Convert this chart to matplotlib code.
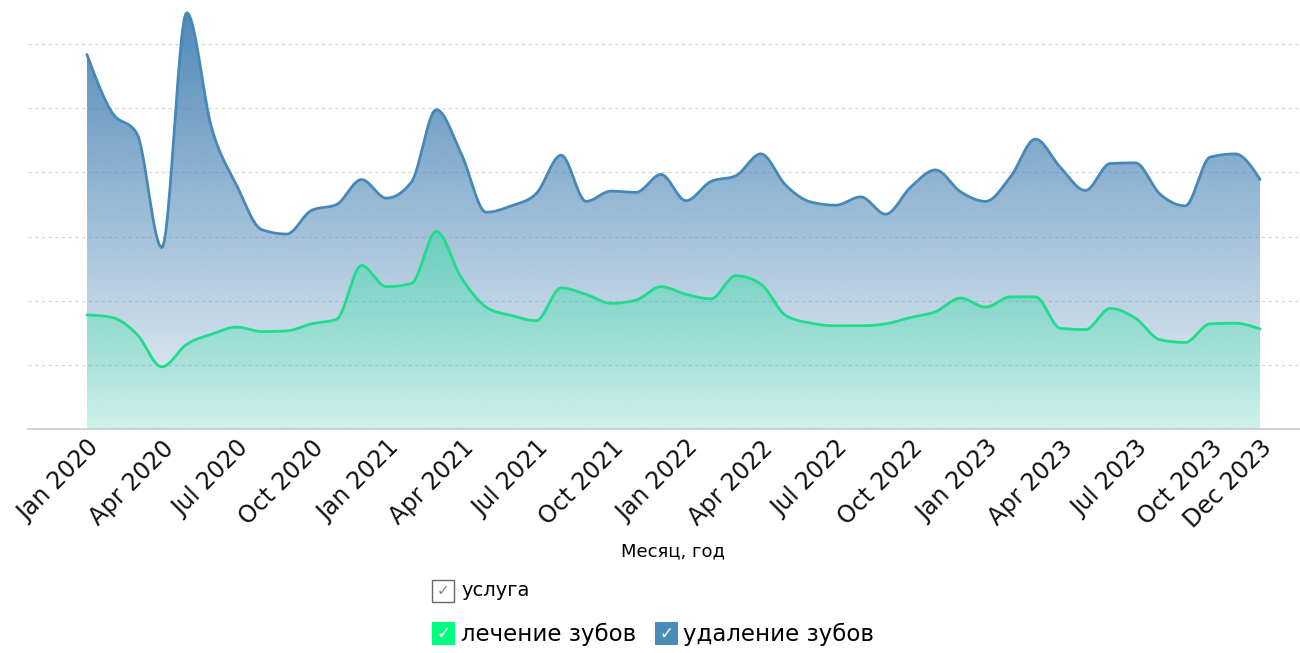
import numpy as np
import matplotlib
matplotlib.use("Agg")
import matplotlib.pyplot as plt
from matplotlib.patches import Rectangle

# monthly values, Jan 2020 .. Dec 2023
udalenie = [58.4, 49.4, 46.1, 28.3, 64.9, 46.9, 38.0, 31.1, 30.4, 34.1, 35.0, 38.9,
            36.0, 38.5, 49.8, 42.9, 33.8, 34.8, 36.7, 42.7, 35.5, 37.1, 36.9, 39.7,
            35.6, 38.6, 39.5, 42.9, 38.0, 35.4, 34.9, 36.2, 33.5, 37.7, 40.4, 37.0,
            35.5, 39.3, 45.2, 40.8, 37.2, 41.4, 41.5, 36.6, 34.8, 42.4, 42.9, 38.9]
lechenie = [17.8, 17.4, 14.8, 9.7, 13.2, 14.8, 15.9, 15.2, 15.3, 16.4, 17.1, 25.5,
            22.2, 22.7, 30.8, 23.6, 19.0, 17.7, 16.9, 22.0, 21.0, 19.6, 20.1, 22.2,
            21.0, 20.3, 23.9, 22.6, 17.7, 16.5, 16.1, 16.1, 16.4, 17.4, 18.3, 20.4,
            19.0, 20.6, 20.6, 15.7, 15.5, 18.8, 17.3, 13.9, 13.5, 16.4, 16.5, 15.6]
month_names = ['Jan', 'Feb', 'Mar', 'Apr', 'May', 'Jun', 'Jul', 'Aug', 'Sep', 'Oct', 'Nov', 'Dec']
months = [f'{m} {y}' for y in range(2020, 2024) for m in month_names]
tick_idx = list(range(0, 48, 3)) + [47]


def monotone(x, y, n=24):
    # monotone cubic (like d3 curveMonotoneX)
    x = np.asarray(x, float)
    y = np.asarray(y, float)
    h = np.diff(x)
    s = np.diff(y) / h
    t = np.zeros_like(y)
    for k in range(1, len(y) - 1):
        s0, s1 = s[k - 1], s[k]
        p = (s0 * h[k] + s1 * h[k - 1]) / (h[k - 1] + h[k])
        t[k] = (np.sign(s0) + np.sign(s1)) * min(abs(s0), abs(s1), 0.5 * abs(p))
    t[0] = (3 * s[0] - t[1]) / 2
    t[-1] = (3 * s[-1] - t[-2]) / 2
    xs, ys = [], []
    for k in range(len(y) - 1):
        u = np.linspace(0, 1, n, endpoint=False)
        h00 = 2 * u**3 - 3 * u**2 + 1
        h10 = u**3 - 2 * u**2 + u
        h01 = -2 * u**3 + 3 * u**2
        h11 = u**3 - u**2
        xs.append(x[k] + u * h[k])
        ys.append(h00 * y[k] + h10 * h[k] * t[k] + h01 * y[k + 1] + h11 * h[k] * t[k + 1])
    xs.append([x[-1]])
    ys.append([y[-1]])
    return np.concatenate(xs), np.concatenate(ys)


fig = plt.figure(figsize=(13, 6.53), dpi=100)
ax = fig.add_axes([28 / 1300, 1 - 429 / 653, 1 - 28 / 1300, 429 / 653])

ytop = 66.9
x = np.arange(48)


def gradient_area(vals, rgb, a0, a1, line_color, z):
    xs, ys = monotone(x, vals)
    poly = ax.fill_between(xs, 0, ys, facecolor='none', edgecolor='none', zorder=z)
    grad = np.zeros((256, 1, 4))
    grad[:, 0, :3] = np.array(rgb) / 255
    grad[:, 0, 3] = np.linspace(a0, a1, 256)
    im = ax.imshow(grad, extent=[0, 47, 0, ytop], origin='lower', aspect='auto',
                   interpolation='bilinear', zorder=z)
    im.set_clip_path(poly.get_paths()[0], transform=ax.transData)
    ax.plot(xs, ys, color=line_color, lw=2.0, zorder=z + 0.5, solid_capstyle='round')


gradient_area(udalenie, (70, 130, 180), 0.1, 0.97, '#4688b6', 2)
gradient_area(lechenie, (20, 230, 150), 0.13, 0.7, '#20dc8c', 3)

ax.set_xlim(-2.36, 48.6)
ax.set_ylim(0, ytop)
ax.set_yticks(range(10, 61, 10))
ax.yaxis.grid(True, color='#d4d4d4', linestyle=(0, (3, 3)), lw=0.8)
ax.set_axisbelow(True)
ax.tick_params(axis='y', length=0, labelleft=False)
ax.tick_params(axis='x', length=0, pad=5)
ax.set_xticks(tick_idx)
ax.set_xticklabels([months[i] for i in tick_idx], rotation=45, ha='right', va='top',
                   rotation_mode='anchor', fontsize=17, color='#111111')
for s in ['top', 'right', 'left']:
    ax.spines[s].set_visible(False)
ax.spines['bottom'].set_color('#cccccc')
ax.spines['bottom'].set_linewidth(1.2)

fig.text(673 / 1300, 1 - 551 / 653, 'Месяц, год', ha='center', va='center', fontsize=13)

# legend drawn by hand
def px_box(x0, y0, w, h, **kw):
    fig.patches.append(Rectangle((x0 / 1300, 1 - (y0 + h) / 653), w / 1300, h / 653,
                                 transform=fig.transFigure, **kw))

px_box(432, 580, 22, 22, facecolor='white', edgecolor='#666666', lw=1)
fig.text(443 / 1300, 1 - 591 / 653, '✓', ha='center', va='center', fontsize=11, color='#888888')
fig.text(461 / 1300, 1 - 591 / 653, 'услуга', ha='left', va='center', fontsize=14)

px_box(432, 622, 23, 23, facecolor='#00ff80', edgecolor='none')
fig.text(443.5 / 1300, 1 - 633.5 / 653, '✓', ha='center', va='center', fontsize=12, color='white')
fig.text(461 / 1300, 1 - 634 / 653, 'лечение зубов', ha='left', va='center', fontsize=16.5)

px_box(655, 622, 23, 23, facecolor='#4a8bb8', edgecolor='none')
fig.text(666.5 / 1300, 1 - 633.5 / 653, '✓', ha='center', va='center', fontsize=12, color='white')
fig.text(683 / 1300, 1 - 634 / 653, 'удаление зубов', ha='left', va='center', fontsize=16.5)

fig.savefig('out.png', dpi=100)
